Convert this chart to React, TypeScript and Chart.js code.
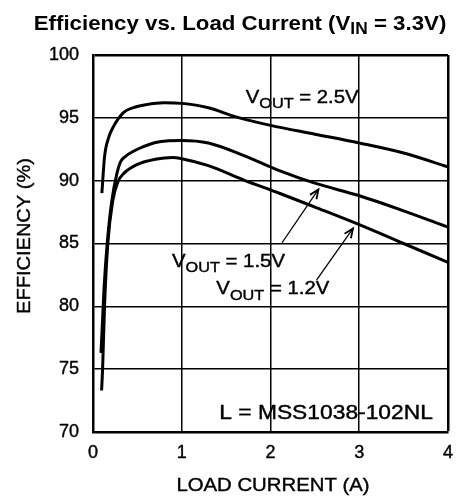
import React, { useEffect, useRef } from "react";
import { Chart, registerables } from "chart.js";
Chart.register(...registerables);

// ---- data ----
const X_TICKS = [0, 1, 2, 3, 4];
const Y_TICKS = [70, 75, 80, 85, 90, 95, 100];

const LOAD_25 = [0.1, 0.13, 0.18, 0.23, 0.34, 0.45, 0.6, 0.8, 1.0, 1.3, 1.6, 2.0, 2.5, 3.0, 3.5, 4.0];
const EFF_25 = [89.0, 91.9, 93.5, 94.3, 95.4, 95.8, 96.05, 96.2, 96.15, 95.8, 95.1, 94.4, 93.7, 93.0, 92.2, 91.1];

const LOAD_15 = [0.09, 0.105, 0.125, 0.16, 0.21, 0.27, 0.31, 0.36, 0.5, 0.75, 1.0, 1.3, 1.7, 2.1, 2.5, 3.0, 3.5, 4.0];
const EFF_15 = [76.3, 78.5, 81.5, 85.0, 88.3, 90.6, 91.5, 91.9, 92.5, 93.1, 93.2, 93.0, 92.0, 90.8, 89.8, 88.8, 87.6, 86.3];

const LOAD_12 = [0.097, 0.108, 0.13, 0.167, 0.22, 0.28, 0.35, 0.5, 0.7, 0.9, 1.0, 1.3, 1.7, 2.1, 2.5, 3.0, 3.5, 4.0];
const EFF_12 = [73.3, 75.0, 80.0, 85.0, 88.3, 89.9, 90.6, 91.3, 91.7, 91.85, 91.75, 91.2, 90.05, 89.0, 87.9, 86.5, 85.0, 83.5];

const SERIES_NAMES = ["2.5V", "1.5V", "1.2V"];
const TITLE_MAIN = "Efficiency vs. Load Current (V";
const TITLE_SUB = "IN";
const TITLE_END = " = 3.3V)";
const Y_TITLE = "EFFICIENCY (%)";
const X_TITLE = "LOAD CURRENT (A)";
const INDUCTOR_NOTE = "L = MSS1038-102NL";

// label anchors in data units (x, y)
const LABEL_25 = [1.72, 96.76];
const LABEL_15 = [0.89, 83.7];
const LABEL_12 = [1.39, 81.5];
const NOTE_POS = [3.83, 71.6];
const ARROW_15 = [2.13, 85.06, 2.54, 89.3];
const ARROW_12 = [2.52, 82.1, 2.93, 86.2];

const FONT = '"Liberation Sans", Arial, Helvetica, sans-serif';

function zip(xs: number[], ys: number[]) {
  return xs.map((x, i) => ({ x, y: ys[i] }));
}

function drawSubText(
  ctx: any,
  parts: { t: string; sub?: boolean }[],
  x: number,
  y: number,
  size: number,
  weight: string,
  align: "left" | "center" | "right",
  sx: number,
  subScale: number,
  subShift: number,
  stroke: number
) {
  const subSize = size * subScale;
  const widths = parts.map((p) => {
    ctx.font = `${weight} ${p.sub ? subSize : size}px ${FONT}`;
    return ctx.measureText(p.t).width * sx;
  });
  const total = widths.reduce((a, b) => a + b, 0);
  let cx = align === "left" ? x : align === "center" ? x - total / 2 : x - total;
  ctx.textAlign = "left";
  ctx.textBaseline = "alphabetic";
  parts.forEach((p, i) => {
    ctx.font = `${weight} ${p.sub ? subSize : size}px ${FONT}`;
    const yy = p.sub ? y + size * subShift : y;
    ctx.save();
    ctx.translate(cx, yy);
    ctx.scale(sx, 1);
    ctx.fillText(p.t, 0, 0);
    if (stroke > 0) {
      ctx.lineWidth = stroke;
      ctx.strokeText(p.t, 0, 0);
    }
    ctx.restore();
    cx += widths[i];
  });
}

function drawArrow(ctx: CanvasRenderingContext2D, x1: number, y1: number, x2: number, y2: number) {
  ctx.save();
  ctx.strokeStyle = "#000";
  ctx.lineWidth = 1.3;
  ctx.beginPath();
  ctx.moveTo(x1, y1);
  ctx.lineTo(x2, y2);
  ctx.stroke();
  const ang = Math.atan2(y2 - y1, x2 - x1);
  const len = 10;
  const spread = 0.4;
  ctx.beginPath();
  ctx.moveTo(x2 - len * Math.cos(ang - spread), y2 - len * Math.sin(ang - spread));
  ctx.lineTo(x2, y2);
  ctx.lineTo(x2 - len * Math.cos(ang + spread), y2 - len * Math.sin(ang + spread));
  ctx.lineWidth = 1.8;
  ctx.stroke();
  ctx.restore();
}

const annotPlugin = {
  id: "annot",
  afterDatasetsDraw(chart: any) {
    const { ctx, scales } = chart;
    const xs = scales.x;
    const ys = scales.y;
    const px = (v: number) => xs.getPixelForValue(v);
    const py = (v: number) => ys.getPixelForValue(v);
    ctx.save();
    ctx.fillStyle = "#000";
    ctx.strokeStyle = "#000";

    // title
    drawSubText(
      ctx,
      [{ t: TITLE_MAIN }, { t: TITLE_SUB, sub: true }, { t: TITLE_END }],
      240,
      30,
      21,
      "bold",
      "center",
      1.06,
      0.78,
      0.2,
      0
    );

    // y axis title
    ctx.save();
    ctx.translate(30, 236);
    ctx.rotate(-Math.PI / 2);
    drawSubText(ctx, [{ t: Y_TITLE }], 0, 0, 19, "normal", "center", 1.055, 1, 0, 0.4);
    ctx.restore();

    // x axis title
    drawSubText(ctx, [{ t: X_TITLE }], 273, 491, 19, "normal", "center", 1.07, 1, 0, 0.4);

    // series labels
    const lab = (pos: number[], name: string) =>
      drawSubText(
        ctx,
        [{ t: "V" }, { t: "OUT", sub: true }, { t: " = " + name }],
        px(pos[0]),
        py(pos[1]) + 7,
        18.5,
        "normal",
        "left",
        1.1,
        0.8,
        0.3,
        0.4
      );
    lab(LABEL_25, SERIES_NAMES[0]);
    lab(LABEL_15, SERIES_NAMES[1]);
    lab(LABEL_12, SERIES_NAMES[2]);

    // note
    drawSubText(ctx, [{ t: INDUCTOR_NOTE }], px(NOTE_POS[0]), py(NOTE_POS[1]) + 7, 19.5, "normal", "right", 1.17, 1, 0, 0.4);

    drawArrow(ctx, px(ARROW_15[0]), py(ARROW_15[1]), px(ARROW_15[2]), py(ARROW_15[3]));
    drawArrow(ctx, px(ARROW_12[0]), py(ARROW_12[1]), px(ARROW_12[2]), py(ARROW_12[3]));
    ctx.restore();
  },
};

export default function App() {
  const ref = useRef<HTMLCanvasElement | null>(null);
  useEffect(() => {
    if (!ref.current) return;
    const ds = (xs: number[], ys: number[], label: string) => ({
      label,
      data: zip(xs, ys),
      borderColor: "#000",
      borderWidth: 3,
      pointRadius: 0,
      fill: false,
      cubicInterpolationMode: "monotone" as const,
    });
    const tickFont = { size: 18, family: FONT };
    const chart = new Chart(ref.current, {
      type: "line",
      data: {
        datasets: [
          ds(LOAD_25, EFF_25, SERIES_NAMES[0]),
          ds(LOAD_15, EFF_15, SERIES_NAMES[1]),
          ds(LOAD_12, EFF_12, SERIES_NAMES[2]),
        ],
      },
      options: {
        responsive: false,
        animation: false,
        devicePixelRatio: 1,
        layout: { padding: { top: 55, right: 11, left: 0, bottom: 0 } },
        plugins: { legend: { display: false }, tooltip: { enabled: false }, title: { display: false } },
        scales: {
          x: {
            type: "linear",
            min: 0,
            max: 4,
            afterFit: (s: any) => {
              s.height = 65;
            },
            afterBuildTicks: (s: any) => {
              s.ticks = X_TICKS.map((v) => ({ value: v }));
            },
            ticks: {
              color: "#000",
              font: tickFont,
              padding: 10,
              maxRotation: 0,
              textStrokeColor: "#000",
              textStrokeWidth: 0.4,
            },
            grid: {
              color: "#000",
              lineWidth: (c: any) => (c.tick && c.tick.value === 4 ? 2.5 : 1.5),
              drawTicks: false,
            },
            border: { display: true, color: "#000", width: 2.5 },
          },
          y: {
            type: "linear",
            min: 70,
            max: 100,
            afterFit: (s: any) => {
              s.width = 93;
            },
            afterBuildTicks: (s: any) => {
              s.ticks = Y_TICKS.map((v) => ({ value: v }));
            },
            ticks: {
              color: "#000",
              font: tickFont,
              padding: 14,
              textStrokeColor: "#000",
              textStrokeWidth: 0.4,
            },
            grid: {
              color: "#000",
              lineWidth: (c: any) => (c.tick && c.tick.value === 100 ? 2.5 : 1.5),
              drawTicks: false,
            },
            border: { display: true, color: "#000", width: 2.5 },
          },
        },
      },
      plugins: [annotPlugin],
    });
    return () => chart.destroy();
  }, []);
  return (
    <div style={{ position: "absolute", left: 0, top: 0, width: 463, height: 497, background: "#fff" }}>
      <canvas ref={ref} width={463} height={497} />
    </div>
  );
}
